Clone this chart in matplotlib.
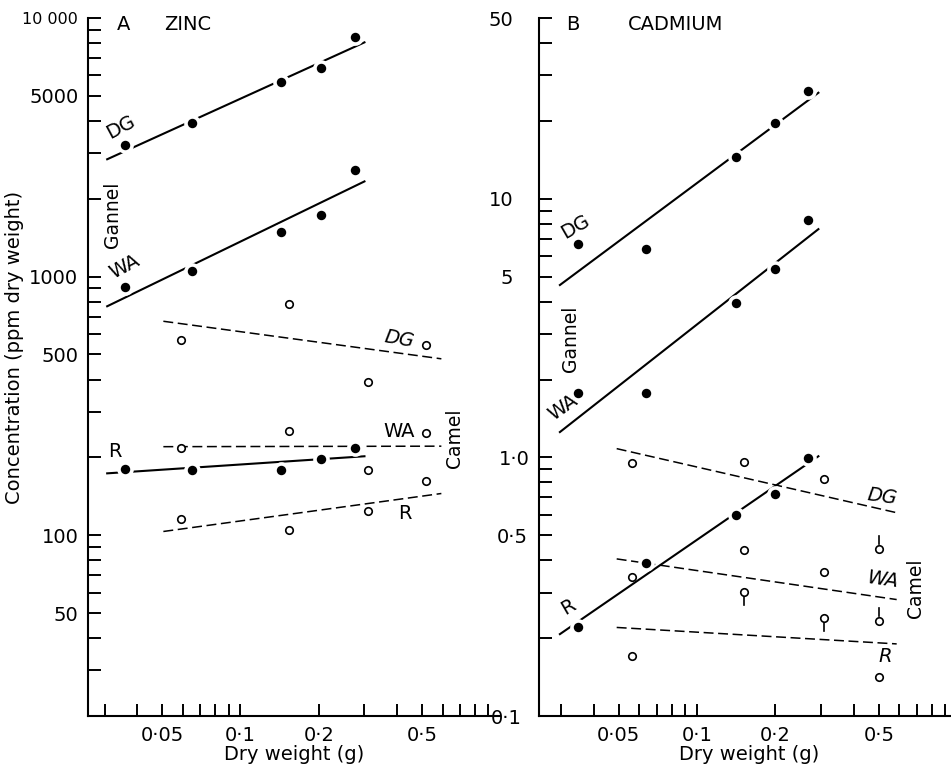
import numpy as np
import matplotlib
matplotlib.use("Agg")
import matplotlib.pyplot as plt
from matplotlib.ticker import LogLocator, NullFormatter
from matplotlib.transforms import ScaledTranslation

# --- ZINC (panel A) ---
# gannet = filled dots, camel = open circles
zn_gan_x = [0.036, 0.065, 0.143, 0.204, 0.275]
zn_gan_dg = [3240, 3920, 5680, 6430, 8410]
zn_gan_wa = [912, 1048, 1490, 1730, 2590]
zn_gan_r = [181, 179, 179, 197, 217]
zn_gan_fit_x = [0.0307, 0.300]
zn_gan_fit_dg = [2843, 8050]
zn_gan_fit_wa = [768, 2334]
zn_gan_fit_r = [173.5, 202]

zn_cam_x = [0.059, 0.154, 0.31, 0.516]
zn_cam_dg = [567, 787, 390, 542]
zn_cam_wa = [217, 253, 178, 248]
zn_cam_r = [116, 105, 124, 162]
zn_cam_fit_x = [0.0505, 0.593]
zn_cam_fit_dg = [672, 481]
zn_cam_fit_wa = [220, 221]
zn_cam_fit_r = [103.4, 145]

# --- CADMIUM (panel B) ---
cd_gan_x = [0.0348, 0.0638, 0.141, 0.200, 0.268]
cd_gan_dg = [6.67, 6.38, 14.5, 19.6, 26.2]
cd_gan_wa = [1.77, 1.77, 3.94, 5.34, 8.29]
cd_gan_r = [0.221, 0.391, 0.601, 0.719, 0.997]
cd_gan_fit_x = [0.0297, 0.293]
cd_gan_fit_dg = [4.64, 25.7]
cd_gan_fit_wa = [1.253, 7.63]
cd_gan_fit_r = [0.2073, 1.01]

cd_cam_x = [0.0561, 0.152, 0.308, 0.501]
cd_cam_dg = [0.954, 0.959, 0.827, 0.443]
cd_cam_wa = [0.345, 0.440, 0.360, 0.232]
cd_cam_r = [0.170, 0.302, 0.239, 0.141]
cd_cam_fit_x = [0.0491, 0.586]
cd_cam_fit_dg = [1.081, 0.611]
cd_cam_fit_wa = [0.405, 0.282]
cd_cam_fit_r = [0.220, 0.190]

# camel points drawn with a little bar (limit marks): x, y, direction
cd_flag_x = [0.501, 0.152, 0.308, 0.501]
cd_flag_y = [0.443, 0.302, 0.239, 0.232]
cd_flag_dir = [1, -1, -1, 1]

x_ticks = [0.05, 0.1, 0.2, 0.5]
x_labels = ["0·05", "0·1", "0·2", "0·5"]
zn_yticks = [50, 100, 500, 1000, 5000, 10000]
zn_ylabels = ["50", "100", "500", "1000", "5000", "10 000"]
cd_yticks = [0.1, 0.5, 1.0, 5, 10, 50]
cd_ylabels = ["0·1", "0·5", "1·0", "5", "10", "50"]
cd_ylabel_shift = [8, 2, 0, 16, 16, 16]  # px to the left, as typeset

W, H = 951, 768
fig = plt.figure(figsize=(W / 100, H / 100), dpi=100)
ax1 = fig.add_axes([88 / W, 52 / H, 412 / W, 698 / H])
ax2 = fig.add_axes([539 / W, 52 / H, 412 / W, 698 / H])

dash = (0, (6.5, 3))


def style(ax, xlim, ylim, yticks, ylabels):
    ax.set_xscale("log")
    ax.set_yscale("log")
    ax.set_xlim(xlim)
    ax.set_ylim(ylim)
    ax.patch.set_alpha(0)
    for s in ["top", "right"]:
        ax.spines[s].set_visible(False)
    for s in ["left", "bottom"]:
        ax.spines[s].set_linewidth(1.5)
    ax.set_xticks(x_ticks, labels=x_labels)
    ax.set_yticks(yticks, labels=ylabels)
    ax.xaxis.set_minor_locator(LogLocator(base=10, subs=np.arange(1, 10), numticks=50))
    ax.yaxis.set_minor_locator(LogLocator(base=10, subs=np.arange(1, 10), numticks=50))
    ax.xaxis.set_minor_formatter(NullFormatter())
    ax.yaxis.set_minor_formatter(NullFormatter())
    ax.tick_params(which="both", direction="in", length=9, width=1.4,
                   labelsize=14, pad=7)


def panel(ax, gfx, gfits, gx, gans, cfx, cfits, cx, cams):
    for fy in gfits:
        ax.plot(gfx, fy, color="black", lw=1.5, zorder=2)
    for fy in cfits:
        ax.plot(cfx, fy, color="black", lw=1.1, ls=dash, zorder=2)
    for gy in gans:
        # white halo breaks the lines around each dot
        ax.plot(gx, gy, "o", color="white", ms=12, mew=0, zorder=3)
        ax.plot(gx, gy, "o", color="black", ms=6.8, mew=0, zorder=4)
    for cy in cams:
        ax.plot(cx, cy, "o", mfc="white", mec="black", ms=5.4, mew=1.2, zorder=5)


style(ax1, (0.0259, 0.997), (20, 10000), zn_yticks, zn_ylabels)
style(ax2, (0.02468, 0.948), (0.1, 50), cd_yticks, cd_ylabels)
ax1.get_yticklabels()[-1].set_fontsize(11.5)
for tick, sh in zip(ax2.yaxis.get_major_ticks(), cd_ylabel_shift):
    tick.label1.set_transform(tick.label1.get_transform()
                              + ScaledTranslation(-sh / 100, 0, fig.dpi_scale_trans))

panel(ax1, zn_gan_fit_x, [zn_gan_fit_dg, zn_gan_fit_wa, zn_gan_fit_r],
      zn_gan_x, [zn_gan_dg, zn_gan_wa, zn_gan_r],
      zn_cam_fit_x, [zn_cam_fit_dg, zn_cam_fit_wa, zn_cam_fit_r],
      zn_cam_x, [zn_cam_dg, zn_cam_wa, zn_cam_r])
panel(ax2, cd_gan_fit_x, [cd_gan_fit_dg, cd_gan_fit_wa, cd_gan_fit_r],
      cd_gan_x, [cd_gan_dg, cd_gan_wa, cd_gan_r],
      cd_cam_fit_x, [cd_cam_fit_dg, cd_cam_fit_wa, cd_cam_fit_r],
      cd_cam_x, [cd_cam_dg, cd_cam_wa, cd_cam_r])

# small limit bars on some camel cadmium values
for x, y, d in zip(cd_flag_x, cd_flag_y, cd_flag_dir):
    ax2.plot([x, x], [y * 10 ** (d * 5 / 258), y * 10 ** (d * 13 / 258)],
             color="black", lw=1.2, zorder=5)

fs = 14
# panel A labels
ax1.text(0.0354, 9400, "A", fontsize=fs, ha="center", va="center")
ax1.text(0.0627, 9400, "ZINC", fontsize=fs, ha="center", va="center")
ax1.text(0.0346, 3800, "DG", fontsize=fs, rotation=28, ha="center", va="center")
ax1.text(0.0359, 1096, "WA", fontsize=fs, rotation=28, ha="center", va="center")
ax1.text(0.0323, 1734, "Gannel", fontsize=13.5, rotation=90, ha="center", va="center")
ax1.text(0.0328, 210, "R", fontsize=fs, ha="center", va="center")
ax1.text(0.410, 571, "DG", fontsize=fs, rotation=-10, style="italic",
         ha="center", va="center")
ax1.text(0.406, 251, "WA", fontsize=fs, ha="center", va="center")
ax1.text(0.428, 121.7, "R", fontsize=fs, ha="center", va="center")
ax1.text(0.667, 237, "Camel", fontsize=13.5, rotation=90, ha="center", va="center")

# panel B labels
ax2.text(0.0332, 47.3, "B", fontsize=fs, ha="center", va="center")
ax2.text(0.0830, 47.3, "CADMIUM", fontsize=fs, ha="center", va="center")
ax2.text(0.0342, 7.81, "DG", fontsize=fs, rotation=30, ha="center", va="center")
ax2.text(0.0325, 2.884, "Gannel", fontsize=13.5, rotation=90, ha="center", va="center")
ax2.text(0.0306, 1.558, "WA", fontsize=fs, rotation=35, ha="center", va="center")
ax2.text(0.0320, 0.265, "R", fontsize=fs, rotation=30, ha="center", va="center")
ax2.text(0.513, 0.708, "DG", fontsize=fs, rotation=-8, style="italic",
         ha="center", va="center")
ax2.text(0.516, 0.3365, "WA", fontsize=fs, rotation=-8, style="italic",
         ha="center", va="center")
ax2.text(0.528, 0.170, "R", fontsize=fs, style="italic", ha="center", va="center")
ax2.text(0.690, 0.3126, "Camel", fontsize=13.5, rotation=90, ha="center", va="center")

fig.text(15 / W, 1 - 347 / H, "Concentration (ppm dry weight)", fontsize=14,
         rotation=90, ha="center", va="center")
fig.text(294 / W, 1 - 755 / H, "Dry weight (g)", fontsize=14, ha="center", va="center")
fig.text(749 / W, 1 - 754 / H, "Dry weight (g)", fontsize=14, ha="center", va="center")

fig.savefig("out.png", dpi=100)
